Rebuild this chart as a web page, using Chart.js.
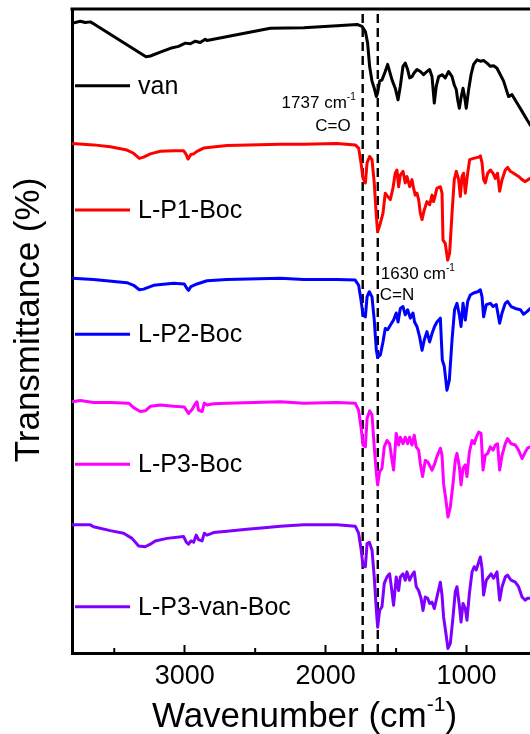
<!DOCTYPE html>
<html>
<head>
<meta charset="utf-8">
<title>FTIR spectra</title>
<script src="https://cdn.jsdelivr.net/npm/chart.js@4.4.1/dist/chart.umd.min.js"></script>
<style>
  html, body { margin: 0; padding: 0; overflow: hidden; background: #fff; }
  #wrap { position: relative; width: 546px; height: 734px; }
</style>
</head>
<body>
<div id="wrap"><canvas id="ftir" width="546" height="734"></canvas></div>
<script>
// Spectra: wavenumber (cm-1) and stacked transmittance (a.u., offset per sample)
const vanWn = [3800, 3741, 3706, 3670, 3647, 3275, 3244, 3173, 3102, 3044, 2996, 2960, 2925, 2890, 2854, 2842, 2393, 2156, 1919, 1777, 1742, 1718, 1702, 1688, 1671, 1655, 1640, 1631, 1617, 1600, 1577, 1560, 1546, 1529, 1506, 1486, 1470, 1451, 1435, 1418, 1404, 1387, 1371, 1352, 1328, 1305, 1281, 1262, 1245, 1229, 1215, 1198, 1174, 1151, 1127, 1103, 1087, 1073, 1063, 1051, 1039, 1025, 1014, 1002, 985, 968, 950, 926, 902, 879, 855, 831, 808, 784, 760, 737, 702, 677, 642, 606, 571, 548, 500];
const vanT = [97.8, 98.1, 97.9, 98.0, 97.7, 92.6, 92.7, 93.3, 93.9, 94.2, 94.7, 94.6, 95.0, 94.8, 95.3, 95.1, 97.0, 97.1, 97.4, 97.6, 97.3, 96.5, 94.7, 91.1, 88.8, 87.7, 86.4, 87.0, 88.8, 89.0, 90.3, 91.4, 90.3, 89.0, 87.7, 85.9, 88.0, 91.1, 91.6, 90.6, 89.3, 89.5, 90.1, 90.6, 90.3, 89.8, 90.3, 90.6, 89.5, 85.4, 88.0, 89.5, 89.8, 89.3, 90.3, 89.5, 88.2, 87.5, 85.9, 84.6, 86.2, 87.7, 86.4, 84.6, 87.5, 89.8, 91.4, 92.1, 91.9, 92.0, 91.6, 91.1, 91.2, 90.8, 89.8, 88.8, 86.4, 86.7, 85.4, 84.1, 82.8, 82.0, 80.5];

const p1Wn = [3800, 3647, 3528, 3410, 3363, 3322, 3292, 3244, 3173, 3079, 3008, 2989, 2977, 2956, 2937, 2913, 2866, 2700, 2322, 2156, 1919, 1790, 1766, 1749, 1735, 1718, 1706, 1688, 1671, 1655, 1640, 1631, 1612, 1593, 1577, 1560, 1541, 1522, 1506, 1494, 1482, 1470, 1451, 1435, 1423, 1404, 1387, 1376, 1364, 1352, 1340, 1328, 1316, 1300, 1281, 1262, 1245, 1234, 1222, 1210, 1186, 1174, 1167, 1151, 1134, 1120, 1103, 1087, 1073, 1056, 1044, 1032, 1021, 1009, 992, 978, 950, 914, 902, 890, 879, 867, 850, 831, 812, 796, 780, 765, 748, 725, 709, 689, 666, 631, 606, 583, 548, 500];
const p1T = [79.1, 78.9, 78.6, 78.1, 77.6, 76.8, 77.0, 77.5, 77.9, 78.0, 78.0, 77.4, 76.7, 77.4, 77.5, 77.9, 78.4, 78.8, 79.0, 79.0, 79.1, 78.9, 78.4, 76.1, 73.7, 73.0, 76.1, 77.1, 76.6, 73.0, 67.8, 65.4, 66.7, 68.3, 71.4, 70.9, 70.4, 72.2, 74.5, 75.0, 72.4, 74.2, 74.8, 73.0, 74.0, 72.4, 73.5, 72.2, 71.1, 71.4, 70.4, 68.3, 67.3, 68.8, 70.1, 69.6, 71.1, 70.1, 71.1, 72.2, 72.4, 71.4, 64.1, 63.6, 61.0, 62.1, 68.3, 73.5, 74.8, 73.5, 70.9, 74.0, 74.5, 71.4, 74.5, 76.6, 76.8, 77.0, 77.2, 76.1, 73.5, 73.0, 74.5, 75.0, 74.5, 73.7, 74.5, 71.7, 73.5, 75.0, 75.4, 74.8, 74.5, 74.0, 73.5, 73.2, 73.7, 74.0];

const p2Wn = [3800, 3647, 3410, 3363, 3322, 3292, 3221, 3079, 3003, 2984, 2973, 2956, 2913, 2842, 2700, 2322, 2156, 1919, 1790, 1766, 1749, 1735, 1718, 1706, 1690, 1671, 1655, 1640, 1631, 1612, 1593, 1577, 1560, 1541, 1518, 1499, 1486, 1470, 1451, 1435, 1418, 1399, 1380, 1369, 1352, 1333, 1316, 1300, 1281, 1262, 1245, 1227, 1210, 1186, 1172, 1158, 1139, 1122, 1103, 1085, 1068, 1051, 1039, 1025, 1009, 992, 973, 950, 921, 902, 890, 879, 860, 831, 812, 789, 765, 748, 725, 709, 684, 654, 618, 595, 571, 548, 500];
const p2T = [58.2, 58.0, 57.5, 57.1, 56.4, 56.5, 57.1, 57.4, 57.3, 56.6, 56.3, 56.9, 57.3, 57.8, 58.0, 58.2, 58.0, 58.0, 57.9, 57.1, 54.8, 52.5, 52.2, 55.3, 56.1, 55.3, 51.7, 47.0, 45.9, 46.3, 48.3, 50.4, 50.2, 50.9, 51.7, 52.8, 51.4, 53.5, 53.8, 52.5, 53.3, 52.0, 52.8, 51.4, 50.7, 49.1, 47.0, 48.6, 49.9, 48.3, 49.6, 50.7, 51.4, 52.0, 45.5, 44.5, 40.8, 42.4, 48.6, 53.3, 54.3, 52.5, 50.7, 54.3, 51.7, 54.6, 55.6, 55.9, 56.1, 56.4, 55.3, 52.2, 54.1, 54.3, 53.8, 54.1, 51.2, 52.8, 54.3, 54.6, 53.8, 53.5, 53.3, 52.6, 53.0, 53.5, 53.7];

const p3Wn = [3800, 3741, 3647, 3528, 3398, 3363, 3315, 3280, 3244, 3173, 3079, 3003, 2973, 2948, 2925, 2913, 2902, 2877, 2861, 2842, 2795, 2700, 2322, 2156, 1919, 1790, 1766, 1749, 1735, 1718, 1706, 1688, 1671, 1655, 1640, 1631, 1617, 1600, 1584, 1565, 1546, 1534, 1518, 1499, 1482, 1470, 1451, 1435, 1418, 1404, 1387, 1371, 1357, 1340, 1328, 1312, 1293, 1276, 1257, 1245, 1229, 1210, 1186, 1174, 1163, 1146, 1132, 1115, 1096, 1080, 1068, 1051, 1039, 1025, 1009, 997, 980, 961, 945, 931, 914, 897, 883, 867, 850, 831, 812, 796, 780, 765, 748, 725, 709, 684, 654, 631, 606, 583, 567, 548, 500];
const p3T = [39.0, 39.2, 38.9, 38.9, 38.8, 38.1, 37.5, 37.6, 38.3, 38.5, 38.3, 38.2, 37.2, 37.8, 38.7, 39.0, 37.7, 37.5, 38.8, 38.5, 38.7, 38.8, 39.0, 38.8, 38.9, 38.8, 37.7, 35.1, 32.3, 32.0, 36.4, 37.6, 37.0, 32.0, 27.9, 26.1, 28.1, 28.7, 32.0, 33.0, 32.5, 30.7, 28.4, 34.1, 32.3, 33.5, 32.5, 33.5, 32.5, 33.5, 32.3, 33.8, 32.0, 31.5, 29.4, 27.4, 29.9, 29.7, 28.9, 28.4, 29.2, 30.5, 31.8, 30.7, 26.3, 23.7, 21.1, 22.7, 26.3, 29.9, 31.0, 28.9, 26.1, 28.7, 29.2, 27.4, 31.2, 33.0, 32.5, 33.5, 34.3, 34.1, 28.4, 30.7, 31.0, 32.0, 31.5, 32.3, 32.5, 28.4, 30.7, 32.5, 33.3, 32.5, 32.3, 31.5, 30.2, 31.2, 31.8, 32.0, 32.2];

const p3vWn = [3800, 3670, 3647, 3528, 3434, 3374, 3327, 3280, 3244, 3209, 3126, 3008, 2989, 2973, 2956, 2937, 2918, 2902, 2877, 2861, 2842, 2795, 2700, 2558, 2416, 2322, 2156, 1919, 1790, 1766, 1749, 1735, 1718, 1706, 1690, 1671, 1655, 1640, 1631, 1617, 1600, 1584, 1565, 1546, 1534, 1518, 1499, 1482, 1470, 1451, 1435, 1423, 1404, 1387, 1371, 1357, 1340, 1323, 1309, 1293, 1276, 1262, 1245, 1229, 1210, 1186, 1174, 1163, 1146, 1132, 1115, 1096, 1080, 1068, 1051, 1039, 1025, 1009, 997, 980, 961, 945, 931, 914, 902, 890, 879, 860, 843, 826, 808, 784, 765, 748, 725, 709, 684, 654, 631, 606, 583, 567, 548, 500];
const p3vT = [19.9, 19.9, 19.6, 19.0, 18.6, 17.8, 16.6, 16.5, 16.9, 17.4, 17.8, 18.1, 17.2, 16.9, 17.4, 17.2, 18.3, 17.6, 17.4, 18.6, 18.3, 18.7, 18.9, 19.2, 19.5, 19.7, 19.9, 19.9, 19.7, 18.6, 16.2, 13.6, 13.4, 17.0, 17.2, 16.0, 11.8, 6.6, 4.0, 6.6, 7.2, 10.8, 11.8, 12.3, 10.3, 7.4, 11.8, 9.7, 11.8, 12.3, 11.3, 12.6, 11.3, 12.1, 12.6, 10.3, 9.7, 8.5, 6.6, 8.7, 8.5, 7.7, 7.9, 6.9, 8.7, 11.0, 9.0, 5.6, 3.0, 0.7, 1.5, 5.6, 9.5, 10.3, 7.4, 4.8, 7.7, 6.9, 5.1, 9.2, 12.6, 13.4, 12.9, 14.1, 14.9, 13.1, 9.0, 11.3, 11.8, 12.3, 11.6, 12.6, 8.2, 10.3, 11.8, 12.1, 11.3, 11.0, 10.3, 8.7, 8.2, 8.5, 8.5, 8.3];

const sampleNames = ['van', 'L-P1-Boc', 'L-P2-Boc', 'L-P3-Boc', 'L-P3-van-Boc'];
const bandWn = [1737, 1630];
const xTicks = [1000, 2000, 3000];
const xMinorTicks = [500, 1500, 2500, 3500];

const FONT = '"Liberation Sans", Arial, Helvetica, sans-serif';
Chart.defaults.font.family = FONT;
Chart.defaults.color = '#000';

const lineColors = ['#000000', '#ff0000', '#0000ff', '#ff00ff', '#8000ff'];
const spectra = [[vanWn, vanT], [p1Wn, p1T], [p2Wn, p2T], [p3Wn, p3T], [p3vWn, p3vT]];

const datasets = spectra.map(([wn, t], i) => ({
    label: sampleNames[i],
    data: wn.map((w, k) => ({ x: w, y: t[k] })),
    borderColor: lineColors[i],
    borderWidth: 3
}));

// dashed guide lines at the C=O and C=N bands
bandWn.forEach(w => {
    datasets.push({
        data: [{ x: w, y: 0 }, { x: w, y: 100 }],
        borderColor: '#000',
        borderWidth: 2.4,
        borderDash: [9, 5]
    });
});

// text with an optional raised part, e.g. cm^-1
function drawRich(ctx, parts, x, y, size, align) {
    const supSize = Math.round(size * 0.6);
    const fontOf = sup => `${sup ? supSize : size}px ${FONT}`;
    let total = 0;
    parts.forEach(([t, sup]) => { ctx.font = fontOf(sup); total += ctx.measureText(t).width; });
    let cx = align === 'right' ? x - total : align === 'center' ? x - total / 2 : x;
    ctx.textAlign = 'left';
    ctx.textBaseline = 'alphabetic';
    parts.forEach(([t, sup]) => {
        ctx.font = fontOf(sup);
        ctx.fillText(t, cx, sup ? y - size * 0.45 : y);
        cx += ctx.measureText(t).width;
    });
}

const decorations = {
    id: 'decorations',
    afterDatasetsDraw(chart, args, opts) {
        const { ctx, chartArea: a, scales: { x, y } } = chart;
        ctx.save();
        ctx.strokeStyle = '#000';
        ctx.fillStyle = '#000';

        // closing frame (top and right)
        ctx.lineWidth = 3;
        ctx.beginPath();
        ctx.moveTo(a.left - 1.5, a.top);
        ctx.lineTo(a.right, a.top);
        ctx.lineTo(a.right, a.bottom);
        ctx.stroke();

        // minor ticks, pointing inward
        ctx.lineWidth = 2;
        xMinorTicks.forEach(v => {
            const px = x.getPixelForValue(v);
            ctx.beginPath();
            ctx.moveTo(px, a.bottom);
            ctx.lineTo(px, a.bottom - 5);
            ctx.stroke();
        });

        // per-curve legend entries
        chart.data.datasets.forEach((ds, i) => {
            if (!ds.label) return;
            const py = y.getPixelForValue(opts.legendAt[i]);
            ctx.strokeStyle = ds.borderColor;
            ctx.lineWidth = ds.borderWidth;
            ctx.beginPath();
            ctx.moveTo(a.left + 3, py);
            ctx.lineTo(a.left + 58, py);
            ctx.stroke();
            ctx.font = `25px ${FONT}`;
            ctx.textAlign = 'left';
            ctx.textBaseline = 'middle';
            ctx.fillText(ds.label, a.left + 66, py + 1);
        });

        // band annotations
        const xCO = x.getPixelForValue(bandWn[0]);
        const xCN = x.getPixelForValue(bandWn[1]);
        drawRich(ctx, [['1737 cm', false], ['-1', true]], xCO - 7, a.top + 98.5, 17, 'right');
        drawRich(ctx, [['C=O', false]], xCO - 12, a.top + 121.5, 17, 'right');
        drawRich(ctx, [['1630 cm', false], ['-1', true]], xCN + 3, a.top + 270, 17, 'left');
        drawRich(ctx, [['C=N', false]], xCN + 2, a.top + 291, 17, 'left');

        // axis titles
        drawRich(ctx, [['Wavenumber (cm', false], ['-1', true], [')', false]], (a.left + a.right) / 2, a.bottom + 74, 35, 'center');
        ctx.save();
        ctx.translate(29.5, (a.top + a.bottom) / 2 - 11);
        ctx.rotate(-Math.PI / 2);
        ctx.font = `35px ${FONT}`;
        ctx.textAlign = 'center';
        ctx.textBaseline = 'middle';
        ctx.fillText('Transmittance (%)', 0, 0);
        ctx.restore();

        ctx.restore();
    }
};

new Chart(document.getElementById('ftir'), {
    type: 'line',
    data: { datasets },
    options: {
        responsive: false,
        animation: false,
        devicePixelRatio: 1,
        layout: { padding: { top: 9, right: 9, left: 0, bottom: 0 } },
        elements: {
            point: { radius: 0, hoverRadius: 0 },
            line: { tension: 0, borderJoinStyle: 'round' }
        },
        plugins: {
            legend: { display: false },
            tooltip: { enabled: false },
            decorations: { legendAt: [88.1, 68.8, 49.5, 29.3, 7.2] }
        },
        scales: {
            x: {
                type: 'linear',
                reverse: true,
                min: 500,
                max: 3800,
                afterBuildTicks: s => { s.ticks = xTicks.map(v => ({ value: v })); },
                afterFit: s => { s.height = 81; },
                ticks: {
                    font: { size: 27 },
                    color: '#000',
                    padding: 15,
                    maxRotation: 0,
                    autoSkip: false,
                    callback: v => String(v)
                },
                grid: { drawOnChartArea: false, drawTicks: true, tickLength: -8, tickWidth: 2, tickColor: '#000' },
                border: { display: true, width: 3, color: '#000' }
            },
            y: {
                min: 0,
                max: 100,
                afterFit: s => { s.width = 72; },
                ticks: { display: false },
                grid: { display: false },
                border: { display: true, width: 3, color: '#000' }
            }
        }
    },
    plugins: [decorations]
});
</script>
</body>
</html>
